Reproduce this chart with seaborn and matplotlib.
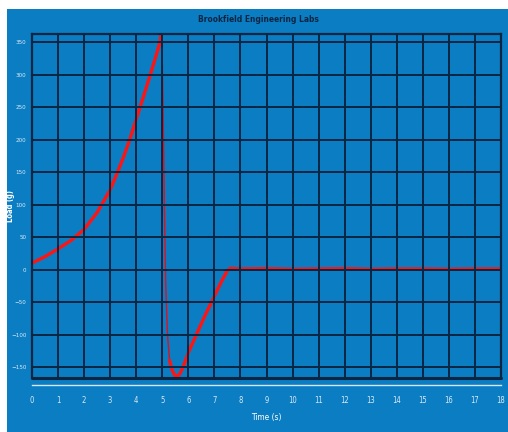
import numpy as np
import matplotlib
matplotlib.use("Agg")
import matplotlib.pyplot as plt
import seaborn as sns
from matplotlib.patches import Rectangle
from matplotlib.ticker import MultipleLocator

# load trace
time_s = np.array([0.0, 0.5, 1.0, 1.5, 2.0, 2.5, 3.0, 3.25, 3.5, 3.75,
                   4.0, 4.25, 4.5, 4.75, 4.91, 4.98,
                   5.03, 5.08, 5.13, 5.2, 5.28,
                   5.38, 5.47, 5.57, 5.68, 5.8, 6.0, 6.33, 6.65, 6.95, 7.25, 7.49, 7.6,
                   8.0, 9.0, 10.0, 11.0, 12.0, 13.0, 14.0, 15.0, 16.0, 17.0, 18.0])
load_g = np.array([10, 20, 32, 45, 62, 88, 123, 147, 172, 200,
                   232, 263, 295, 328, 350, 372,
                   250, 100, -20, -100, -140,
                   -155, -162, -165, -160, -150, -128, -98, -70, -45, -20, -2, 2,
                   1, 1.5, 0.5, 1, 1.5, 0.5, 1, 1, 0.5, 1, 1])
drop_start, drop_end = 15, 20   # fast drop, sparse samples -> thin line

x_ticks = np.arange(0, 19, 1)
y_ticks = np.arange(-150, 351, 50)

blue = "#0b7dc3"
navy = "#0a2642"
light = "#d6e8f5"

sns.set_style("white")
plt.rcParams["font.family"] = ["DejaVu Sans"]
plt.rcParams["font.stretch"] = "condensed"

fig = plt.figure(figsize=(5.08, 4.32), dpi=100, facecolor="white")
fig.patches.append(Rectangle((7 / 508, 0), 1, (432 - 9) / 432, transform=fig.transFigure,
                             facecolor=blue, edgecolor="none", zorder=-5))
ax = fig.add_axes([32 / 508, (432 - 378) / 432, 469 / 508, 344 / 432])
ax.set_zorder(2)
ax.set_facecolor(blue)

sns.lineplot(x=time_s[:drop_start + 1], y=load_g[:drop_start + 1], sort=False,
             estimator=None, color="#ff1414", lw=2.4, ax=ax)
sns.lineplot(x=time_s[drop_start:drop_end + 1], y=load_g[drop_start:drop_end + 1], sort=False,
             estimator=None, color="#e0101e", lw=1.0, ax=ax)
sns.lineplot(x=time_s[drop_end:], y=load_g[drop_end:], sort=False,
             estimator=None, color="#ff1414", lw=2.4, ax=ax)

ax.set_xlim(0, 18)
ax.set_ylim(-167, 363)
ax.set_xticks(x_ticks)
ax.set_yticks(y_ticks)
ax.xaxis.set_minor_locator(MultipleLocator(0.5))
ax.grid(True, color=navy, lw=1.4)
ax.set_axisbelow(False)

for side in ["left", "right", "top"]:
    ax.spines[side].set_color(navy)
    ax.spines[side].set_linewidth(1.6)
ax.spines["bottom"].set_position(("outward", 5))
ax.spines["bottom"].set_color(light)
ax.spines["bottom"].set_linewidth(1.0)
ax.axhline(-167, color=navy, lw=2.2, clip_on=False)

ax.tick_params(axis="x", which="major", colors=light, length=4, width=0.8,
               labelsize=5.5, pad=4, direction="out")
ax.tick_params(axis="x", which="minor", colors=light, length=2, width=0.6, direction="out")
ax.tick_params(axis="y", colors=light, length=2, width=0.6, labelsize=4.5, pad=2)
for lab in ax.get_xticklabels() + ax.get_yticklabels():
    lab.set_color("#dbe9f4")

ax.set_xlabel("Time (s)", color="white", fontsize=6, labelpad=6)
ax.set_ylabel("Load (g)", color="white", fontsize=5.5, fontweight="bold", va="center")
ax.yaxis.set_label_coords(-0.045, 0.5)

fig.text(258 / 508, (432 - 20) / 432, "Brookfield Engineering Labs", color=navy,
         fontsize=6, fontweight="bold", ha="center", va="center")

fig.savefig("out.png", dpi=100, facecolor="white")
